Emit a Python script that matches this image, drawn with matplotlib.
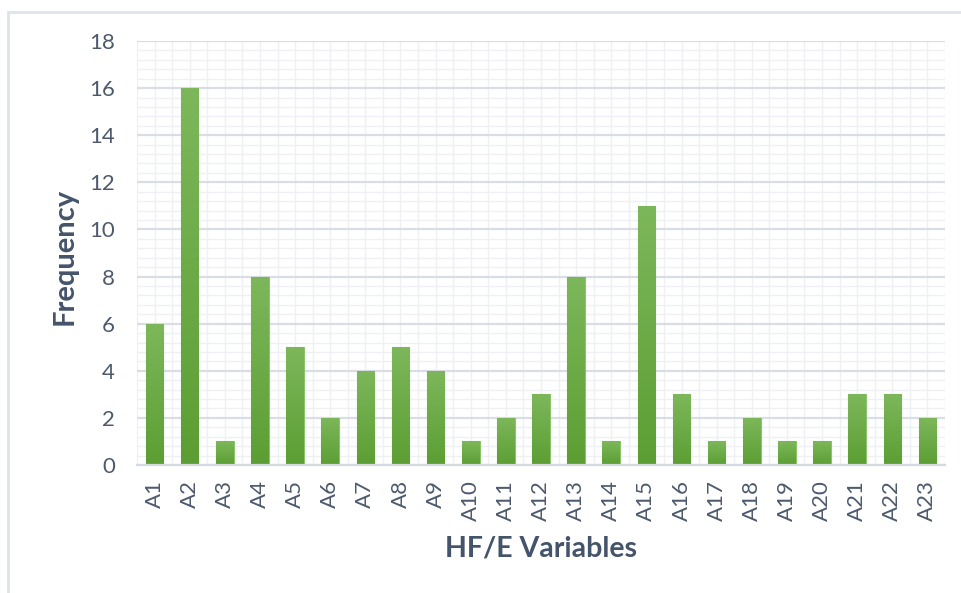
import matplotlib
matplotlib.use("Agg")
import matplotlib.pyplot as plt
import numpy as np
from matplotlib.patches import Rectangle
from matplotlib.ticker import MultipleLocator
from matplotlib.colors import LinearSegmentedColormap

categories = [f"A{i}" for i in range(1, 24)]
values = [6, 16, 1, 8, 5, 2, 4, 5, 4, 1, 2, 3, 8, 1, 11, 3, 1, 2, 1, 1, 3, 3, 2]
y_ticks = [0, 2, 4, 6, 8, 10, 12, 14, 16, 18]

W, H = 961, 593
fig = plt.figure(figsize=(W / 100, H / 100), dpi=100)
fig.patch.set_facecolor("white")

# outer border
fig.patches.append(Rectangle((8 / W, -0.1), 1.2, 1 - 12 / H + 0.1, transform=fig.transFigure,
                             fill=False, edgecolor="#dfe3ea", linewidth=2.0, zorder=0))

ax = fig.add_axes([137 / W, (H - 465) / H, (945 - 137) / W, (465 - 41) / H])

font = "Lato"
tc = "#4d5a6e"
lc = "#44546a"

ax.yaxis.set_major_locator(MultipleLocator(2))
ax.yaxis.set_minor_locator(MultipleLocator(0.4))
ax.xaxis.set_major_locator(MultipleLocator(1))
ax.xaxis.set_minor_locator(MultipleLocator(0.5))
ax.grid(which="major", axis="y", color="#dadde4", linewidth=1.6, zorder=0)
ax.grid(which="minor", axis="both", color="#eef0f3", linewidth=1.0, zorder=0)
ax.grid(which="major", axis="x", color="#eef0f3", linewidth=1.0, zorder=0)
ax.set_axisbelow(True)

for s in ["top", "right", "left"]:
    ax.spines[s].set_visible(False)
ax.spines["bottom"].set_color("#d5d9e0")
ax.spines["bottom"].set_linewidth(1.6)

x = np.arange(len(categories))
bw = 0.5
cmap = LinearSegmentedColormap.from_list("g", ["#5c9e33", "#7db75b"])
grad = np.linspace(0, 1, 256).reshape(-1, 1)
bars = ax.bar(x, values, width=bw, color="#6aaa44", edgecolor="#8cc46c", linewidth=0.8, zorder=2)
for b in bars:
    x0, y0 = b.get_x(), b.get_y()
    w, h = b.get_width(), b.get_height()
    im = ax.imshow(grad, extent=[x0, x0 + w, y0, y0 + h], origin="lower", cmap=cmap,
                   aspect="auto", zorder=2.5)
    im.set_clip_path(b)
ax.set_xlim(-0.5, len(categories) - 0.5)
ax.set_ylim(0, 18)

ax.set_xticks(x)
ax.set_xticklabels(categories, rotation=90, fontsize=16, color=tc, fontname=font)
ax.set_yticks(y_ticks)
ax.set_yticklabels([str(v) for v in y_ticks], fontsize=16, color=tc, fontname=font)
ax.tick_params(which="both", length=0)
ax.tick_params(axis="x", pad=11)
ax.tick_params(axis="y", pad=16)

ax.set_ylabel("Frequency", fontsize=21, fontweight="bold", color=lc, fontname=font, va="center")
ax.yaxis.set_label_coords(-0.089, 0.493)
ax.set_xlabel("HF/E Variables", fontsize=20.5, fontweight="bold", color=lc, fontname=font, va="center")
ax.xaxis.set_label_coords(0.5, -0.196)

fig.savefig("out.png", dpi=100, facecolor="white")
